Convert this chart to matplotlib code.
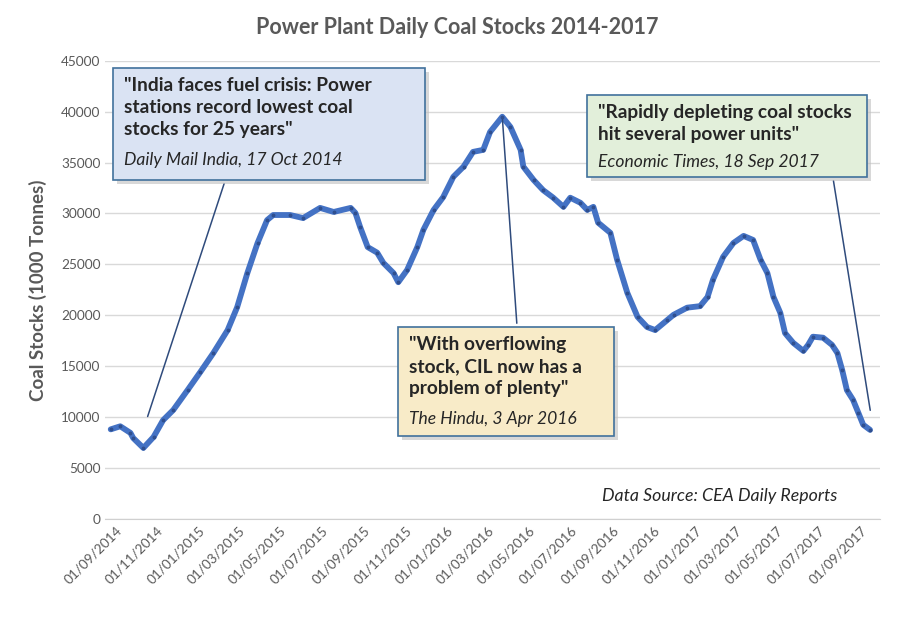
import matplotlib.pyplot as plt
import matplotlib.dates as mdates
import matplotlib.patches as mpatches
import pandas as pd

# Donnees (stocks de charbon, en milliers de tonnes)
dates = [
    "2014-08-25", "2014-09-08", "2014-09-23", "2014-09-27", "2014-10-12", "2014-10-27",
    "2014-11-10", "2014-11-25", "2014-12-16", "2015-01-04", "2015-01-23", "2015-02-13",
    "2015-02-27", "2015-03-14", "2015-03-29", "2015-04-12", "2015-04-21", "2015-05-16",
    "2015-06-04", "2015-06-29", "2015-07-19", "2015-08-13", "2015-08-20", "2015-08-27",
    "2015-09-07", "2015-09-21", "2015-09-30", "2015-10-15", "2015-10-22", "2015-11-04",
    "2015-11-19", "2015-11-28", "2015-12-13", "2015-12-27", "2016-01-11", "2016-01-26",
    "2016-02-09", "2016-02-24", "2016-03-05", "2016-03-23", "2016-04-04", "2016-04-19",
    "2016-04-23", "2016-05-08", "2016-05-22", "2016-06-06", "2016-06-21", "2016-07-01",
    "2016-07-16", "2016-07-26", "2016-08-04", "2016-08-11", "2016-08-29", "2016-09-08",
    "2016-09-23", "2016-10-08", "2016-10-22", "2016-11-03", "2016-11-21", "2016-11-30",
    "2016-12-20", "2017-01-08", "2017-01-19", "2017-01-27", "2017-02-11", "2017-02-26",
    "2017-03-13", "2017-03-27", "2017-04-07", "2017-04-17", "2017-04-26", "2017-05-06",
    "2017-05-13", "2017-05-25", "2017-06-09", "2017-06-16", "2017-06-23", "2017-07-08",
    "2017-07-21", "2017-07-29", "2017-08-05", "2017-08-12", "2017-08-21", "2017-08-29",
    "2017-09-05", "2017-09-15",
]
stocks = [
    8800, 9100, 8450, 7950, 6970, 8050,
    9700, 10700, 12650, 14450, 16300, 18550,
    20800, 24150, 27100, 29350, 29850, 29850,
    29550, 30550, 30150, 30550, 30050, 28650,
    26700, 26150, 25150, 24150, 23250, 24450,
    26700, 28400, 30350, 31600, 33600, 34600,
    36050, 36250, 38000, 39500, 38500, 36250,
    34600, 33300, 32300, 31550, 30650, 31550,
    31050, 30350, 30650, 29100, 28100, 25450,
    22200, 19850, 18850, 18550, 19550, 20050,
    20750, 20900, 21800, 23500, 25750, 27100,
    27800, 27400, 25450, 24150, 21800, 20250,
    18250, 17300, 16500, 17100, 17900, 17800,
    17100, 16300, 14650, 12650, 11700, 10400,
    9250, 8750,
]

# Titres des articles de presse
notes = [
    ('"India faces fuel crisis: Power\nstations record lowest coal\nstocks for 25 years"',
     "Daily Mail India, 17 Oct 2014"),
    ('"With overflowing\nstock, CIL now has a\nproblem of plenty"',
     "The Hindu, 3 Apr 2016"),
    ('"Rapidly depleting coal stocks\nhit several power units"',
     "Economic Times, 18 Sep 2017"),
]

x = pd.to_datetime(dates)
gris = "#595959"
bleu = "#4472C4"

plt.rcParams['font.family'] = ['Lato', 'DejaVu Sans']

fig = plt.figure(figsize=(9, 6.2), dpi=100)
ax = fig.add_axes([0.117, 0.163, 0.861, 0.739])

ax.plot(x, stocks, '-', color=bleu, lw=4.2, solid_capstyle='round', zorder=3)
ax.plot(x, stocks, 'o', color="#2F4F8F", ms=1.8, zorder=4)

ax.set_ylim(0, 45000)
ax.set_yticks(range(0, 45001, 5000))
ax.set_xlim(pd.Timestamp("2014-08-17"), pd.Timestamp("2017-09-30"))
ticks = pd.date_range("2014-09-01", "2017-09-01", freq="2MS")
ax.set_xticks(ticks)
ax.xaxis.set_major_formatter(mdates.DateFormatter("%d/%m/%Y"))
plt.setp(ax.get_xticklabels(), rotation=45, ha='right', rotation_mode='anchor')
ax.tick_params(axis='both', colors=gris, labelsize=9.8, length=0)
ax.tick_params(axis='x', pad=4)
ax.grid(axis='y', color="#D9D9D9", lw=1)
ax.set_axisbelow(True)
for s in ['top', 'right', 'left']:
    ax.spines[s].set_visible(False)
ax.spines['bottom'].set_color("#D0D0D0")

ax.set_ylabel("Coal Stocks (1000 Tonnes)", color=gris, fontsize=13.5, fontweight='bold', labelpad=10)
fig.text(0.508, 0.955, "Power Plant Daily Coal Stocks 2014-2017", ha='center', va='center',
         color=gris, fontsize=15.5, fontweight='bold')
fig.text(0.93, 0.2, "Data Source: CEA Daily Reports", ha='right', va='center',
         style='italic', color="#262626", fontsize=12.8)

# Boites d'annotation (en pixels de la figure)
boites = [
    (113, 68, 425, 180, "#DAE3F3", (225, 181), ("2014-10-17", 9800)),
    (398, 327, 614, 436, "#F8EBC8", (517, 326), ("2016-03-23", 39500)),
    (587, 95, 867, 177, "#E2EFDA", (833, 178), ("2017-09-16", 10400)),
]

def px(xp, yp):
    return xp / 900, 1 - yp / 620

for (x0, y0, x1, y1, fond, depart, cible), (titre, source) in zip(boites, notes):
    # trait vers la courbe
    ax.annotate("", xy=(pd.Timestamp(cible[0]), cible[1]), xycoords='data',
                xytext=px(*depart), textcoords='figure fraction',
                arrowprops=dict(arrowstyle='-', color="#2F4B7C", lw=1.1), zorder=5)
    ombre = mpatches.Rectangle(px(x0 + 4, y1 + 4), (x1 - x0) / 900, (y1 - y0) / 620,
                               transform=fig.transFigure, facecolor="#BFBFBF",
                               edgecolor='none', alpha=0.6, zorder=6)
    fig.add_artist(ombre)
    rect = mpatches.Rectangle(px(x0, y1), (x1 - x0) / 900, (y1 - y0) / 620,
                              transform=fig.transFigure, facecolor=fond,
                              edgecolor="#41719C", lw=1.2, zorder=7)
    fig.add_artist(rect)
    nb = titre.count("\n") + 1
    tx, ty = px(x0 + 11, y0 + 9)
    fig.text(tx, ty, titre, ha='left', va='top', fontsize=13.8, fontweight='bold',
             color="#262626", linespacing=1.34, zorder=8)
    sx, sy = px(x0 + 11, y0 + 9 + nb * 25)
    fig.text(sx, sy, source, ha='left', va='top', fontsize=12.6, style='italic',
             color="#262626", zorder=8)

fig.savefig("out.png", dpi=100, facecolor='white')
